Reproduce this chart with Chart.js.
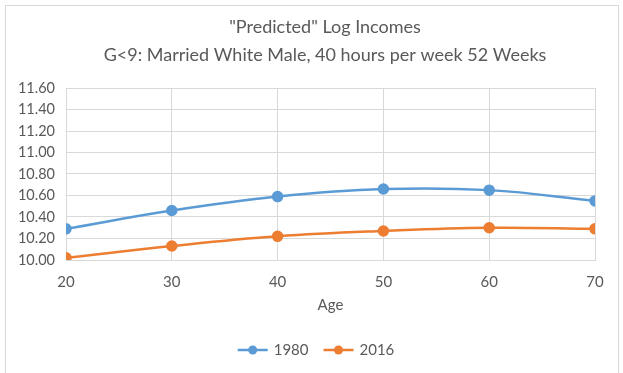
<!DOCTYPE html>
<html>
<head>
<meta charset="utf-8">
<script src="https://cdn.jsdelivr.net/npm/chart.js@4/dist/chart.umd.min.js"></script>
<style>
  html, body { margin: 0; padding: 0; background: #fff; }
  #wrap { position: relative; width: 623px; height: 373px; }
  #frame { position: absolute; left: 5px; top: 5px; width: 614px; height: 368px;
           border-left: 1px solid #d9d9d9; border-top: 1px solid #d9d9d9; border-right: 1px solid #d9d9d9; box-sizing: border-box; }
  canvas { position: absolute; left: 0; top: 0; }
</style>
</head>
<body>
<div id="wrap">
  <div id="frame"></div>
  <canvas id="c" width="623" height="373"></canvas>
</div>
<script>
// Age groups and predicted log incomes per year
const ages = [20, 30, 40, 50, 60, 70];
const income1980 = [10.29, 10.46, 10.59, 10.66, 10.65, 10.55];
const income2016 = [10.02, 10.13, 10.22, 10.27, 10.30, 10.29];
const yTicks = [10.0, 10.2, 10.4, 10.6, 10.8, 11.0, 11.2, 11.4, 11.6];
const titleLines = ['"Predicted" Log Incomes', 'G<9: Married White Male, 40 hours per week 52 Weeks'];

const BLUE = '#5b9bd5';
const ORANGE = '#ed7d31';
const TEXT = '#595959';
const FONT = 'Lato, "Open Sans", sans-serif';

// Two-line heading, centred on the whole frame
const headingPlugin = {
  id: 'heading',
  afterDraw(chart) {
    const g = chart.ctx;
    g.save();
    g.fillStyle = TEXT;
    g.font = `18px ${FONT}`;
    g.textAlign = 'center';
    g.textBaseline = 'middle';
    g.fillText(titleLines[0], 325, 27);
    g.fillText(titleLines[1], 325, 55);
    g.restore();
  }
};

// Legend row: line-with-dot marker followed by the series name
const legendRowPlugin = {
  id: 'legendRow',
  afterDraw(chart) {
    const g = chart.ctx;
    g.save();
    g.font = `15px ${FONT}`;
    g.textBaseline = 'middle';
    const markerW = 30, gap = 6, itemGap = 15, cy = 350;
    const items = chart.data.datasets.map(ds => ({ ds, w: g.measureText(ds.label).width }));
    const total = items.reduce((s, it) => s + markerW + gap + it.w, 0) + itemGap * (items.length - 1);
    let x = 316 - total / 2;
    items.forEach(({ ds, w }) => {
      g.strokeStyle = ds.borderColor; g.lineWidth = 2.5;
      g.beginPath(); g.moveTo(x, cy); g.lineTo(x + markerW, cy); g.stroke();
      g.fillStyle = ds.borderColor;
      g.beginPath(); g.arc(x + markerW / 2, cy, 4.5, 0, Math.PI * 2); g.fill();
      g.fillStyle = TEXT;
      g.fillText(ds.label, x + markerW + gap, cy);
      x += markerW + gap + w + itemGap;
    });
    g.restore();
  }
};

const toXY = (vals) => ages.map((a, i) => ({ x: a, y: vals[i] }));

new Chart(document.getElementById('c'), {
  type: 'line',
  data: {
    datasets: [
      { label: '1980', data: toXY(income1980), borderColor: BLUE, backgroundColor: BLUE,
        borderWidth: 2.5, pointRadius: 4.5, pointHoverRadius: 4.5, tension: 0.4 },
      { label: '2016', data: toXY(income2016), borderColor: ORANGE, backgroundColor: ORANGE,
        borderWidth: 2.5, pointRadius: 4.5, pointHoverRadius: 4.5, tension: 0.4 }
    ]
  },
  plugins: [headingPlugin, legendRowPlugin],
  options: {
    responsive: false,
    animation: false,
    layout: { padding: { left: 12, right: 28, top: 88, bottom: 59 } },
    plugins: {
      title: { display: false },
      legend: { display: false },
      tooltip: { enabled: false }
    },
    scales: {
      x: {
        type: 'linear', min: 20, max: 70,
        ticks: { stepSize: 10, color: TEXT, font: { family: FONT, size: 15 }, padding: 13 },
        grid: { color: '#d9d9d9', drawTicks: false },
        border: { color: '#d9d9d9' },
        title: { display: true, text: 'Age', color: TEXT, font: { family: FONT, size: 15 }, padding: { top: -8, bottom: 0 } }
      },
      y: {
        min: 10.0, max: 11.6,
        afterBuildTicks: (axis) => { axis.ticks = yTicks.map(v => ({ value: v })); },
        afterFit: (axis) => { axis.width = 54; },
        ticks: { color: TEXT, font: { family: FONT, size: 14.5 }, padding: 11, autoSkip: false,
                 callback: (v) => Number(v).toFixed(2) },
        grid: { color: '#d9d9d9', drawTicks: false },
        border: { display: false }
      }
    }
  }
});
</script>
</body>
</html>
